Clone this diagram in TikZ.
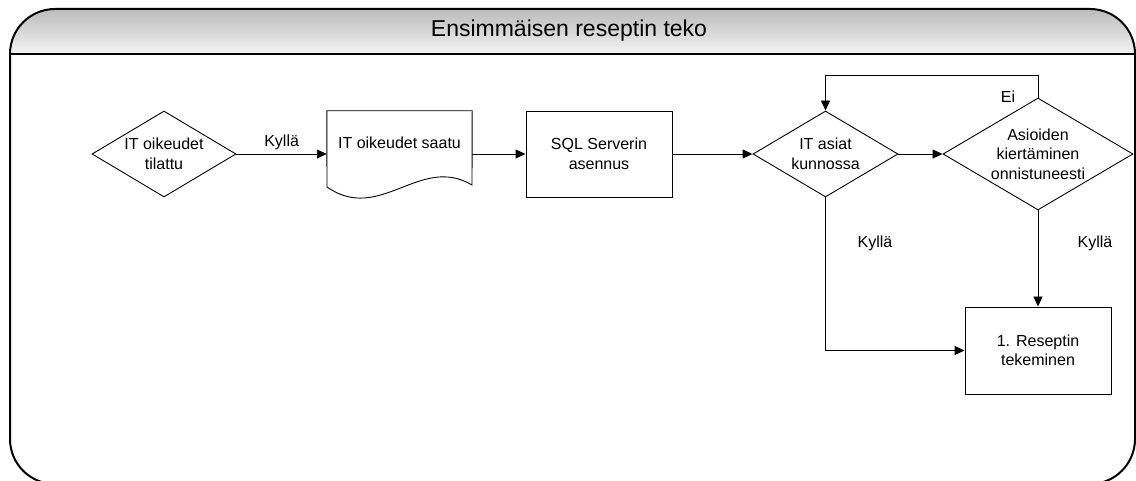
\documentclass[tikz,border=0pt]{standalone}
\usepackage{fontspec}
\setmainfont{Liberation Sans}
\usetikzlibrary{shapes.geometric,arrows.meta}
\definecolor{hdrtop}{HTML}{BBBBBB}
\definecolor{hdrbot}{HTML}{F4F4F4}
\begin{document}
\begin{tikzpicture}[x=1pt,y=1pt,
  every node/.style={font=\fontsize{16}{19.5}\selectfont},
  dia/.style={draw, shape=diamond, inner sep=0pt, line width=0.9pt},
  box/.style={draw, rectangle, minimum width=146pt, minimum height=86pt,
    inner sep=0pt, align=center, line width=0.9pt},
  flow/.style={line width=0.9pt, -{Triangle[length=10pt,width=9pt]}},
  lbl/.style={inner sep=0pt}]
\useasboundingbox (0,0) rectangle (1136,480);
\clip (0,0) rectangle (1136,480);

% swimlane frame with shaded title band
\shade[top color=hdrtop, bottom color=hdrbot]
  (10,426) arc[start angle=180, end angle=90, radius=45]
  -- (1090,471) arc[start angle=90, end angle=0, radius=45] -- cycle;
\draw[line width=2pt, rounded corners=45pt] (10,-4) rectangle (1135,471);
\draw[line width=1.6pt] (10,426) -- (1135,426);
\node[font=\fontsize{23}{27}\selectfont] (title) at (569,449) {Ensimmäisen reseptin teko};

% flow chart nodes
\node[dia, minimum width=144pt, minimum height=86pt,
  label={[align=center]center:{IT oikeudet\\tilattu}}] (d1) at (164,326) {};
\node[inner sep=0pt, minimum width=145pt, minimum height=86pt,
  label={[yshift=11pt]center:{IT oikeudet saatu}}] (doc) at (399.5,326) {};
\draw[line width=0.9pt] (doc.north west) -- (doc.north east) -- (472,295)
  .. controls (420,326) and (380,256) .. (327,293) -- cycle;
\node[box] (sql) at (599,326) {SQL Serverin\\asennus};
\node[dia, minimum width=145pt, minimum height=86pt,
  label={[align=center]center:{IT asiat\\kunnossa}}] (d2) at (825.5,326) {};
\node[dia, minimum width=190pt, minimum height=112pt,
  label={[align=center]center:{Asioiden\\kiertäminen\\onnistuneesti}}] (d3) at (1038,326) {};
\node[box, minimum height=87pt] (rec) at (1038,129.5) {1. Reseptin\\tekeminen};

% connectors
\draw[flow] (d1.east) -- node[above=4pt, lbl] (k1) {Kyllä} (doc.west);
\draw[flow] (doc.east) -- (sql.west);
\draw[flow] (sql.east) -- (d2.west);
\draw[flow] (d2.east) -- (d3.west);
\draw[flow] (d3.north) -- ++(0,22) -| (d2.north);
\draw[flow] (d2.south) |- (rec.west);
\draw[flow] (d3.south) -- (rec.north);

% branch labels
\node[lbl] (ei) at (1008,383) {Ei};
\node[lbl] (k2) at (875,237) {Kyllä};
\node[lbl] (k3) at (1095,237) {Kyllä};
\end{tikzpicture}
\end{document}
